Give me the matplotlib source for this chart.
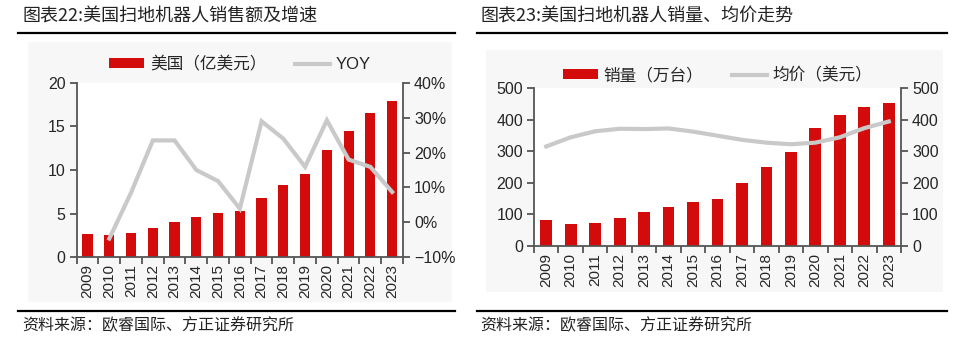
import numpy as np
import matplotlib
matplotlib.use('Agg')
import matplotlib.pyplot as plt
from matplotlib.patches import Rectangle
from matplotlib.lines import Line2D
from matplotlib.ticker import FuncFormatter, MultipleLocator

plt.rcParams['font.family'] = ['Liberation Sans', 'Noto Sans CJK SC', 'DejaVu Sans']
plt.rcParams['axes.unicode_minus'] = True

# 数据
years = ['2009', '2010', '2011', '2012', '2013', '2014', '2015', '2016',
         '2017', '2018', '2019', '2020', '2021', '2022', '2023']
# 图表22：美国扫地机器人销售额（亿美元）及增速
sales = [2.65, 2.55, 2.75, 3.3, 4.05, 4.6, 5.1, 5.3, 6.75, 8.25, 9.55, 12.3, 14.45, 16.6, 17.95]
yoy = [None, -0.047, 0.085, 0.235, 0.235, 0.15, 0.118, 0.039, 0.29, 0.24, 0.159, 0.293, 0.18, 0.159, 0.087]
# 图表23：美国扫地机器人销量（万台）、均价（美元）
volume = [82, 71, 74, 89, 108, 124, 140, 149, 198, 251, 297, 373, 415, 440, 454]
price = [315, 344, 363, 371, 370, 372, 362, 349, 336, 327, 322, 327, 344, 373, 394]

RED = '#d40b0b'
GREY = '#c9c9c9'
SPINE = '#555555'
TXT = '#262626'
W, H = 960, 341

fig = plt.figure(figsize=(9.6, 3.41), dpi=100)


def fx(px):
    return px / W


def fy(py):
    return 1 - py / H


# 背景面板
fig.patches.append(Rectangle((fx(28), fy(302)), fx(452 - 28), (302 - 42) / H,
                             transform=fig.transFigure, facecolor='#f7f7f7', edgecolor='none', zorder=-5))
fig.patches.append(Rectangle((fx(486), fy(292)), fx(943 - 486), (292 - 50) / H,
                             transform=fig.transFigure, facecolor='#f7f7f7', edgecolor='none', zorder=-5))

# 标题和横线
fig.text(fx(22), fy(17), '图表22:美国扫地机器人销售额及增速', fontsize=13,
         family=['Noto Sans CJK SC'], va='center', ha='left', color='#222222')
fig.text(fx(480), fy(17), '图表23:美国扫地机器人销量、均价走势', fontsize=13,
         family=['Noto Sans CJK SC'], va='center', ha='left', color='#222222')
for x0, x1 in [(18, 455), (477, 947)]:
    fig.add_artist(Line2D([fx(x0), fx(x1)], [fy(33), fy(33)], color='black', lw=1.6))
    fig.add_artist(Line2D([fx(x0), fx(x1)], [fy(311), fy(311)], color='black', lw=1.6))
fig.text(fx(22), fy(326), '资料来源：欧睿国际、方正证券研究所', fontsize=11.5,
         family=['Noto Sans CJK SC'], style='italic', va='center', ha='left', color='#222222')
fig.text(fx(480), fy(326), '资料来源：欧睿国际、方正证券研究所', fontsize=11.5,
         family=['Noto Sans CJK SC'], style='italic', va='center', ha='left', color='#222222')

x = np.arange(len(years))


def style_axes(ax, ax2):
    for a in (ax, ax2):
        a.spines['top'].set_visible(False)
        for s in ('left', 'right', 'bottom'):
            a.spines[s].set_color(SPINE)
            a.spines[s].set_linewidth(1.3)
        a.tick_params(axis='y', direction='out', length=5, width=1.3, color=SPINE,
                      labelsize=11.5, labelcolor=TXT, pad=3)
    ax.spines['right'].set_visible(False)
    ax2.spines['left'].set_visible(False)
    ax2.spines['bottom'].set_visible(False)
    ax.set_xlim(-0.5, len(years) - 0.5)
    ax.set_xticks(x)
    ax.set_xticklabels(years, rotation=90, fontsize=11, color=TXT)
    ax.tick_params(axis='x', which='major', length=0, pad=5)
    ax.set_xticks(np.arange(len(years) + 1) - 0.5, minor=True)
    ax.tick_params(axis='x', which='minor', direction='out', length=5, width=1.3, color=SPINE)
    ax.set_facecolor('white')


def add_legend(ax, axb, yoff):
    h1, l1 = ax.get_legend_handles_labels()
    h2, l2 = axb.get_legend_handles_labels()
    ax.legend(h1 + h2, l1 + l2, loc='center', bbox_to_anchor=(0.5, 1 + yoff), ncol=2,
              frameon=False, fontsize=12, handlelength=2.1, handleheight=0.55,
              columnspacing=1.7, handletextpad=0.35, labelcolor=TXT)


# 图表22
ax1 = fig.add_axes([fx(76.7), fy(257), fx(403 - 76.7), (257 - 83) / H])
ax1b = ax1.twinx()
ax1.bar(x, sales, width=0.47, color=RED, label='美国（亿美元）', zorder=2)
yx = [i for i, v in enumerate(yoy) if v is not None]
yv = [v for v in yoy if v is not None]
ax1b.plot(yx, yv, color=GREY, lw=3, label='YOY', solid_joinstyle='miter')
ax1.set_ylim(0, 20)
ax1.yaxis.set_major_locator(MultipleLocator(5))
ax1b.set_ylim(-0.10, 0.40)
ax1b.yaxis.set_major_locator(MultipleLocator(0.1))
ax1b.yaxis.set_major_formatter(FuncFormatter(lambda v, p: f'{v * 100:.0f}%'.replace('-', '\u2212')))
style_axes(ax1, ax1b)
add_legend(ax1, ax1b, 19 / 174)

# 图表23
ax2 = fig.add_axes([fx(534), fy(246), fx(901 - 534), (246 - 88) / H])
ax2b = ax2.twinx()
ax2.bar(x, volume, width=0.48, color=RED, label='销量（万台）', zorder=2)
ax2b.plot(x, price, color=GREY, lw=3, label='均价（美元）')
ax2.set_ylim(0, 500)
ax2.yaxis.set_major_locator(MultipleLocator(100))
ax2b.set_ylim(0, 500)
ax2b.yaxis.set_major_locator(MultipleLocator(100))
style_axes(ax2, ax2b)
add_legend(ax2, ax2b, 13 / 158)

fig.savefig('out.png', dpi=100)
